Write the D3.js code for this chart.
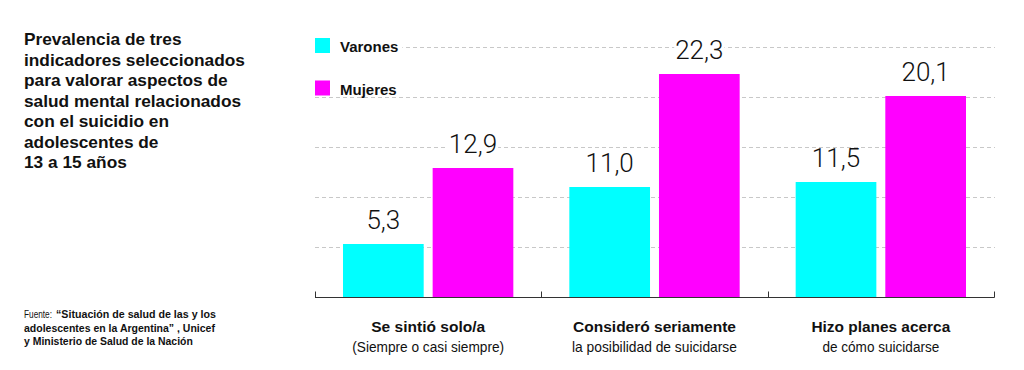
<!DOCTYPE html>
<html><head><meta charset="utf-8">
<script src="https://cdn.jsdelivr.net/npm/d3@7"></script>
<style>
html,body{margin:0;padding:0;background:#fff;}
svg{display:block;}
</style></head>
<body>
<script>
const categories = ["Se sintió solo/a", "Consideró seriamente", "Hizo planes acerca"];
const subLabels = ["(Siempre o casi siempre)", "la posibilidad de suicidarse", "de cómo suicidarse"];
const series = ["Varones", "Mujeres"];
const varones = [5.3, 11.0, 11.5];
const mujeres = [12.9, 22.3, 20.1];
const gridTicks = [5, 10, 15, 20, 25];
const titleLines = ["Prevalencia de tres", "indicadores seleccionados", "para valorar aspectos de", "salud mental relacionados", "con el suicidio en", "adolescentes de", "13 a 15 años"];
const colors = ["#00ffff", "#ff00ff"];

const W = 1024, H = 370;
const svg = d3.select("body").append("svg").attr("width", W).attr("height", H);

const y = d3.scaleLinear().domain([0, 25]).range([297, 47]);
const x0 = d3.scaleBand().domain(categories).range([315, 994]).paddingInner(0).paddingOuter(0);
const x1 = d3.scaleBand().domain(series).range([28, x0.bandwidth() - 28]).paddingInner(0.1).paddingOuter(0);
const color = d3.scaleOrdinal().domain(series).range(colors);
const fmt = v => d3.format(".1f")(v).replace(".", ",");

// gridlines
svg.append("g").selectAll("line").data(gridTicks).join("line")
  .attr("x1", 315).attr("x2", 995)
  .attr("y1", d => Math.round(y(d)) + 0.5).attr("y2", d => Math.round(y(d)) + 0.5)
  .attr("stroke", "#c8c8c8").attr("stroke-width", 1).attr("stroke-dasharray", "4,3");

// bars
const data = categories.map((c, i) => ({cat: c, vals: [{s: "Varones", v: varones[i]}, {s: "Mujeres", v: mujeres[i]}]}));
const groups = svg.append("g").selectAll("g").data(data).join("g")
  .attr("transform", d => `translate(${x0(d.cat)},0)`);
groups.selectAll("rect.bar").data(d => d.vals).join("rect").attr("class", "bar")
  .attr("x", d => x1(d.s)).attr("width", x1.bandwidth())
  .attr("y", d => y(d.v)).attr("height", d => y(0) - y(d.v))
  .attr("fill", d => color(d.s));
const labels = groups.selectAll("text.val").data(d => d.vals).join("text").attr("class", "val")
  .attr("x", d => x1(d.s) + x1.bandwidth() / 2).attr("y", d => y(d.v) - 15)
  .attr("text-anchor", "middle")
  .style("font-family", "Roboto, 'Liberation Sans', sans-serif").style("font-weight", 300)
  .style("font-size", "26px").attr("fill", "#111")
  .text(d => fmt(d.v));
// white knockout behind value labels (gridlines are interrupted in the original)
labels.each(function () {
  const bb = this.getBBox();
  d3.select(this.parentNode).insert("rect", function () { return this; }.bind(this))
    .attr("x", bb.x - 1).attr("y", bb.y + 5).attr("width", bb.width + 2).attr("height", bb.height - 9)
    .attr("fill", "#fff");
});

// axis
const axis = d3.axisBottom(x0).tickSize(0).tickFormat("");
const ag = svg.append("g").attr("transform", "translate(0,297.5)").call(axis);
ag.select(".domain").remove();
ag.append("line").attr("x1", 315).attr("x2", 994.5).attr("stroke", "#333").attr("stroke-width", 1);
const tickPos = categories.map(c => x0(c)).concat([x0(categories[2]) + x0.bandwidth()]);
ag.selectAll("line.tk").data(tickPos).join("line").attr("class", "tk")
  .attr("x1", d => Math.round(d) + 0.5).attr("x2", d => Math.round(d) + 0.5)
  .attr("y1", -6).attr("y2", 0).attr("stroke", "#333");

// helper: text squeezed horizontally to a given width
function squeezed(x, yb, txt, size, bold, width, anchor) {
  const g = svg.append("g");
  const t = g.append("text").attr("x", 0).attr("y", 0)
    .style("font-family", "'Liberation Sans', Arial, sans-serif").style("font-size", size + "px")
    .style("font-weight", bold ? "bold" : "normal").attr("fill", "#111")
    .attr("text-anchor", anchor || "start").text(txt);
  const nat = t.node().getComputedTextLength();
  g.attr("transform", `translate(${x},${yb}) scale(${width / nat},1)`);
  return g;
}

// category labels
const subW = [152, 165, 117];
const catW = [114, 163, 139];
categories.forEach((c, i) => {
  const cx = x0(c) + x0.bandwidth() / 2;
  squeezed(cx, 332, c, 15.5, true, catW[i], "middle");
  squeezed(cx, 352, subLabels[i], 15, false, subW[i], "middle");
});

// legend
const lg = svg.append("g");
series.forEach((s, i) => {
  const yy = 38 + i * 42.5;
  lg.append("rect").attr("x", 315).attr("y", yy).attr("width", 15).attr("height", 15).attr("fill", color(s));
  const t = lg.append("text").attr("x", 340).attr("y", yy + 14)
    .style("font-family", "'Liberation Sans', Arial, sans-serif").style("font-weight", "bold").style("font-size", "15px")
    .attr("fill", "#111").text(s);
  if (i === 0) {
    const bb = t.node().getBBox();
    lg.insert("rect", ":first-child").attr("x", 315).attr("y", y(25) - 3).attr("width", bb.x + bb.width + 4 - 315).attr("height", 6).attr("fill", "#fff");
  }
});

// title
const tt = svg.append("text").attr("x", 24).attr("y", 45)
  .style("font-family", "'Liberation Sans', Arial, sans-serif").style("font-weight", "bold").style("font-size", "17.3px").attr("fill", "#111");
titleLines.forEach((l, i) => tt.append("tspan").attr("x", 24).attr("y", 45 + i * 20.5).text(l));

// source
const src = [
  {t: "Fuente:", b: false, x: 24, w: 28, line: 0},
  {t: "“Situación de salud de las y los", b: true, x: 56, w: 160, line: 0},
  {t: "adolescentes en la Argentina” , Unicef", b: true, x: 24, w: 191, line: 1},
  {t: "y Ministerio de Salud de la Nación", b: true, x: 24, w: 169, line: 2}
];
src.forEach(p => squeezed(p.x, 318 + p.line * 13.7, p.t, 11, p.b, p.w, "start"));
</script>
</body></html>
